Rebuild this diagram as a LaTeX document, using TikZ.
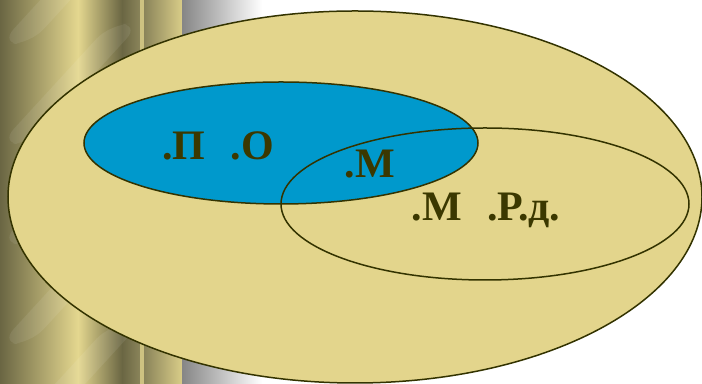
\documentclass[tikz,border=0pt]{standalone}
\usepackage{fontspec}
\setmainfont{Liberation Serif}
\usepackage{xcolor}
\usepackage{tikz}
\usetikzlibrary{positioning}
\definecolor{setTan}{HTML}{E3D58C}
\definecolor{setBlue}{HTML}{0099CC}
\definecolor{setLine}{HTML}{333300}
\definecolor{setText}{HTML}{3B3800}
\definecolor{pillarDark}{HTML}{6A6643}
\definecolor{pillarLight}{HTML}{E4D78F}
\definecolor{pillarMid}{HTML}{8A845A}

\begin{document}
\begin{tikzpicture}[
    x=0.5pt, y=0.5pt,
    font=\fontsize{21}{24}\selectfont\bfseries,
    setline/.style={draw=setLine, line width=0.75pt},
    label/.style={text=setText, anchor=base, inner sep=0pt},
    band/.style={fill=white, fill opacity=0.08}
]
\useasboundingbox (0,0) rectangle (702,384);

% pillar on the left
\shade[left color=pillarDark, right color=pillarLight] (0,0) rectangle (78,384);
\shade[left color=pillarLight, right color=pillarDark] (78,0) rectangle (122,384);
\shade[left color=pillarDark, right color=pillarMid] (122,0) rectangle (140,384);
\fill[pillarLight!90!black] (140,0) rectangle (144,384);
\shade[left color=pillarMid, right color=pillarLight!95!black] (144,0) rectangle (182,384);
\shade[left color=gray!95, right color=white] (182,0) rectangle (262,384);
\begin{scope}
  \clip (0,0) rectangle (140,384);
  \foreach \y in {-60,40,140,240,340}
    \fill[band, rounded corners=10pt] (0,\y) -- (30,\y) -- (140,\y+120) -- (110,\y+120) -- cycle;
\end{scope}

% sets
\filldraw[setline, fill=setTan] (355,187) ellipse [x radius=347, y radius=186];
\filldraw[setline, fill=setBlue] (281,241) ellipse [x radius=197, y radius=61];
\draw[setline] (485,180) ellipse [x radius=204, y radius=76];

% labels
\node[label] (po) at (218,224) {.П\hspace{0.6em}.О};
\node[label] (m) at (370,206) {.М};
\node[label] (mrd) at (486,163) {.М\hspace{0.6em}.Р.д.};

\end{tikzpicture}
\end{document}
